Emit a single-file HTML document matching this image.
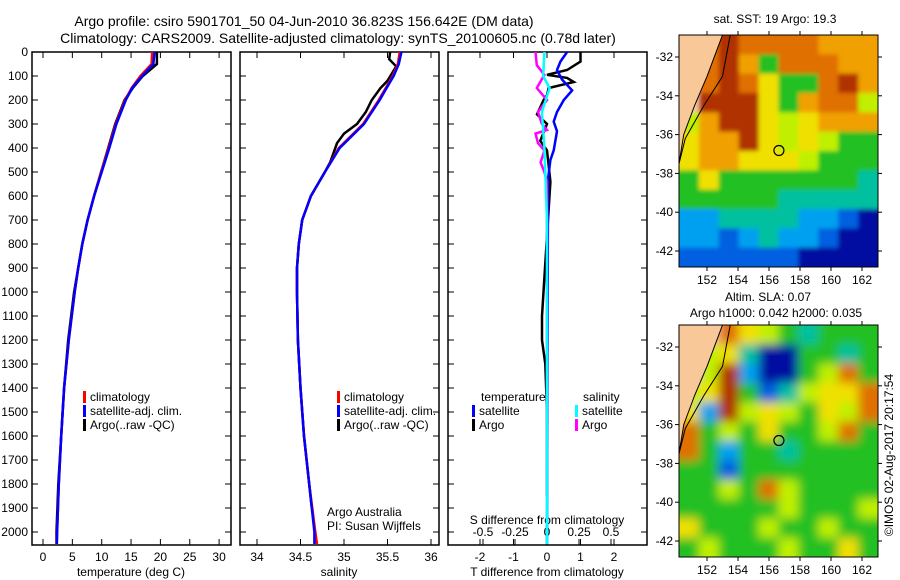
<!DOCTYPE html>
<html><head><meta charset="utf-8"><style>
body{margin:0;background:#fff;}
svg{display:block;font-family:"Liberation Sans",sans-serif;}
text{font-size:12px;fill:#000;}
</style></head><body>
<svg id="s" width="900" height="580" viewBox="0 0 900 580">
<defs>
<filter id="b1" x="0" y="0" width="1" height="1"><feGaussianBlur stdDeviation="2"/></filter>
<filter id="b2" x="0" y="0" width="1" height="1"><feGaussianBlur stdDeviation="5"/></filter>
<clipPath id="c1"><rect x="679" y="35" width="199" height="232"/></clipPath>
<clipPath id="c2"><rect x="679" y="325" width="199" height="232"/></clipPath>
</defs>
<text x="304" y="26" text-anchor="middle" style="font-size:14px">Argo profile: csiro 5901701_50 04-Jun-2010 36.823S 156.642E (DM data)</text>
<text x="338" y="43" text-anchor="middle" style="font-size:14px">Climatology: CARS2009. Satellite-adjusted climatology: synTS_20100605.nc (0.78d later)</text>
<g id="g"></g>
</svg>
<script>
// ---------- data ----------
const tDepth=[0,50,100,150,200,300,400,500,600,700,800,900,1000,1200,1400,1600,1800,2000,2050];
const tClim=[18.6,18.5,16.6,15.1,14.0,12.4,11.2,9.9,8.7,7.6,6.7,6.0,5.4,4.4,3.6,3.1,2.7,2.4,2.35];
const tSat=[19.0,18.8,16.9,15.2,14.1,12.5,11.3,10.0,8.7,7.6,6.7,6.0,5.4,4.4,3.6,3.1,2.7,2.4,2.35];
const tArgo=[19.4,19.4,17.0,15.3,13.9,12.3,11.1,9.9,8.7,7.6,6.7,6.0,5.3,4.3,3.6,3.1,2.6,2.3,2.3];
const sDepth=[0,50,100,150,200,300,400,500,600,700,800,900,1000,1200,1400,1600,1800,2000,2050];
const sClim=[35.64,35.62,35.56,35.48,35.4,35.22,34.94,34.78,34.62,34.52,34.48,34.46,34.46,34.47,34.5,34.54,34.6,34.67,34.69];
const sSat=[35.66,35.63,35.57,35.49,35.41,35.23,34.95,34.78,34.62,34.52,34.48,34.46,34.46,34.47,34.5,34.54,34.6,34.66,34.66];
const aSDepth=[0,30,60,90,120,150,200,250,300,340,380,420,460,500,550,600,700,800,900,1000,1200,1400,1600,1800,1900];
const aSal=[35.53,35.52,35.6,35.55,35.5,35.42,35.32,35.25,35.15,35.0,34.92,34.88,34.84,34.78,34.7,34.62,34.52,34.48,34.46,34.46,34.47,34.5,34.54,34.6,34.63];
const dDepth=[0,40,75,95,108,125,150,180,200,260,300,370,410,540,1100,1200,1300,1500,1850];
const dTArgo=[1.0,1.0,0.6,0.0,0.6,0.8,0.05,0.0,-0.1,-0.3,0.0,-0.2,0.0,0.1,-0.15,-0.15,-0.05,0.0,0.0];
const dTsDepth=[0,40,75,115,160,200,250,290,330,410,450,530,2050];
const dTSat=[0.6,0.4,0.3,0.45,0.75,0.5,0.3,0.2,0.3,0.2,0.1,0.03,0.0];
const dSaDepth=[0,55,95,150,200,250,300,325,340,380,410,460,500,540,1850];
const dSArgo=[-0.09,-0.08,-0.02,-0.08,0.0,-0.07,-0.04,0.0,-0.09,-0.07,-0.02,-0.05,-0.02,0.0,0.0];
const dSsDepth=[0,100,150,250,400,700,2050];
const dSSat=[-0.02,-0.03,0.02,-0.04,-0.02,0.0,0.0];
const depthTicks=[0,100,200,300,400,500,600,700,800,900,1000,1100,1200,1300,1400,1500,1600,1700,1800,1900,2000];
const tTicks=[0,5,10,15,20,25,30];
const sTicks=[34,34.5,35,35.5,36];
const tdTicks=[-2,-1,0,1,2];
const sdTicks=[-0.5,-0.25,0,0.25,0.5];
const lonTicks=[152,154,156,158,160,162];
const latTicks=[-32,-34,-36,-38,-40,-42];
const sstGrid=["LOrOOOOooo","LOrogOOOoo","LOrOyggOro","LrrrygoOOl","lorrylyooo","yoorylylgg","yooyyylggg","gygggggggt","gggggttttt","ccttttccbn","ccbctccbnn","bbbbbbnnnn"];
const slaGrid=["LLOylgtggg","Llytnnggtg","LlrcnnglOg","lyrgbtlyyO","ycrlylgylO","OglgygglOg","Ogcggtgggg","ggbggggggg","gglgOlgggg","ggggglgggl","yggglgglgg","glggglggyg"];
const pal={L:"#f8c898",O:"#e07000",r:"#b03000",o:"#f0a000",y:"#f0e000",l:"#c0f000",g:"#20c020",t:"#00c0a0",c:"#00a0f0",b:"#0060e0",n:"#0010a0"};
// ---------- helpers ----------
const NS="http://www.w3.org/2000/svg",G=document.getElementById('g');
function mk(t,a,p){const e=document.createElementNS(NS,t);for(const k in a)e.setAttribute(k,a[k]);(p||G).appendChild(e);return e;}
const yD=d=>52+d*0.24;
function panel(x0,name){const r=mk('rect',{x:x0,y:52,width:199,height:493,fill:'none',stroke:'#000','stroke-width':1.5});
}
function line(xs,ds,fx,col,w,name){const pts=xs.map((v,i)=>fx(v).toFixed(1)+','+yD(ds[i]).toFixed(1)).join(' ');
const e=mk('polyline',{points:pts,fill:'none',stroke:col,'stroke-width':w});
}
function txt(x,y,s,anc,name,extra){const e=mk('text',Object.assign({x:x,y:y,'text-anchor':anc||'start'},extra||{}));e.textContent=s;
return e;}
function xticks(vals,fx,y,name){vals.forEach(v=>{const x=fx(v);mk('line',{x1:x,x2:x,y1:545,y2:539,stroke:'#000'});mk('line',{x1:x,x2:x,y1:52,y2:58,stroke:'#000'});
txt(x,y,String(v),'middle',name);});}
// ---------- panels ----------
const fT=v=>43+v*5.87, fS=v=>257+(v-34)*87, fTd=v=>547+v*33.5, fSd=v=>547+v*128;
panel(32,'temperature-panel');panel(240,'salinity-panel');panel(448,'difference-panel');
depthTicks.forEach(d=>{const y=yD(d);[32,240,448].forEach(x=>{mk('line',{x1:x,x2:x+6,y1:y,y2:y,stroke:'#000'});mk('line',{x1:x+199,x2:x+193,y1:y,y2:y,stroke:'#000'});});
txt(28,y+4,String(d),'end','depth-tick-label');});
xticks(tTicks,fT,561,'temperature-tick-label');
xticks(sTicks,fS,561,'salinity-tick-label');
xticks(tdTicks,fTd,561,'t-diff-tick-label');
sdTicks.forEach(v=>{const x=fSd(v);mk('line',{x1:x,x2:x,y1:545,y2:539,stroke:'#000'});txt(x,536,String(v),'middle','s-diff-tick-label');});
txt(131,576,'temperature (deg C)','middle','temperature-axis-title');
txt(339,576,'salinity','middle','salinity-axis-title');
txt(547,576,'T difference from climatology','middle','t-diff-axis-title');
txt(547,524,'S difference from climatology','middle','s-diff-axis-title');
line(tArgo,tDepth,fT,'#000',2.5,'temp-argo-line');
line(tClim,tDepth,fT,'#f00',2.5,'temp-clim-line');
line(tSat,tDepth,fT,'#00f',2.5,'temp-sat-line');
line(aSal,aSDepth,fS,'#000',2.5,'sal-argo-line');
line(sClim,sDepth,fS,'#f00',2.5,'sal-clim-line');
line(sSat,sDepth,fS,'#00f',2.5,'sal-sat-line');
line(dTArgo,dDepth,fTd,'#000',2.5,'tdiff-argo-line');
line(dTSat,dTsDepth,fTd,'#00f',2.5,'tdiff-sat-line');
line(dSArgo,dSaDepth,fSd,'#f0f',2.5,'sdiff-argo-line');
line(dSSat,dSsDepth,fSd,'#0ff',2.5,'sdiff-sat-line');
function leg(x,y,col,s,name){mk('rect',{x:x,y:y-10,width:3,height:12,fill:col});txt(x+7,y,s,'start',name);}
[['climatology','#f00'],['satellite-adj. clim.','#00f'],['Argo(..raw -QC)','#000']].forEach((l,i)=>{leg(83,401+i*14,l[1],l[0],'legend-entry');leg(337,401+i*14,l[1],l[0],'legend-entry');});
txt(481,401,'temperature','start','legend-temperature-heading');txt(583,401,'salinity','start','legend-salinity-heading');
leg(472,415,'#00f','satellite','legend-entry');leg(472,429,'#000','Argo','legend-entry');
leg(575,415,'#0ff','satellite','legend-entry');leg(575,429,'#f0f','Argo','legend-entry');
txt(327,516,'Argo Australia','start','credit-argo-australia');txt(327,530,'PI: Susan Wijffels','start','credit-pi');
// ---------- maps ----------
function map(grid,y0,y1,latY,name,clip,blur){const x0=679,x1=878,rows=grid.length,cols=10,cw=(x1-x0)/cols,ch=(y1-y0)/rows;
const outer=mk('g',{'clip-path':'url(#'+clip+')'});
const cg=mk('g',{filter:'url(#'+blur+')'},outer);
mk('rect',{x:x0-10,y:y0-10,width:x1-x0+20,height:y1-y0+20,fill:'#20c020'},cg);
grid.forEach((row,r)=>{for(let c=0;c<cols;c++){const e=mk('rect',{x:x0+c*cw-(c==0?10:0),y:y0+r*ch-(r==0?10:0),width:cw+0.5+(c==0||c==cols-1?10:0),height:ch+0.5+(r==0||r==rows-1?10:0),fill:pal[row[c]]||'#20c020'},cg);
}});
const fx=l=>707+(l-152)*15.5, fy=l=>latY+(-32-l)*19.4;
mk('polygon',{points:`${x0},${y0} ${fx(153.0)},${y0} ${fx(152.0)},${fy(-33)} ${fx(151.2)},${fy(-34.5)} ${fx(150.5)},${fy(-36)} ${x0},${fy(-37.5)}`,fill:'#f8c898',stroke:'#000'},outer);
mk('polyline',{points:`${fx(153.5)},${y0} ${fx(153)},${fy(-33)} ${fx(151.8)},${fy(-34.5)} ${fx(150.6)},${fy(-36.2)} ${x0},${fy(-37.5)}`,fill:'none',stroke:'#000'},outer);
const c=mk('circle',{cx:fx(156.64),cy:fy(-36.82),r:5,fill:'none',stroke:'#000','stroke-width':1.2});

const b=mk('rect',{x:x0,y:y0,width:x1-x0,height:y1-y0,fill:'none',stroke:'#000'});

lonTicks.forEach(l=>{const x=fx(l);mk('line',{x1:x,x2:x,y1:y1,y2:y1+4,stroke:'#000'});mk('line',{x1:x,x2:x,y1:y0,y2:y0-4,stroke:'#000'});txt(x,y1+17,String(l),'middle','lon-tick-label');});
latTicks.forEach(l=>{const y=fy(l);mk('line',{x1:x0,x2:x0-4,y1:y,y2:y,stroke:'#000'});mk('line',{x1:x1,x2:x1+4,y1:y,y2:y,stroke:'#000'});txt(x0-6,y+4,String(l),'end','lat-tick-label');});}
map(sstGrid,35,267,57,'sst-map','c1','b1');
map(slaGrid,325,557,347,'sla-map','c2','b2');
txt(775,23,'sat. SST: 19 Argo: 19.3','middle','sst-map-title');
txt(768,301,'Altim. SLA: 0.07','middle','sla-map-title');
txt(776,317,'Argo h1000: 0.042 h2000: 0.035','middle','sla-map-subtitle');
txt(0,0,'©IMOS 02-Aug-2017 20:17:54','middle','imos-timestamp',{transform:'translate(893,455) rotate(-90)'});
</script>
</body></html>
